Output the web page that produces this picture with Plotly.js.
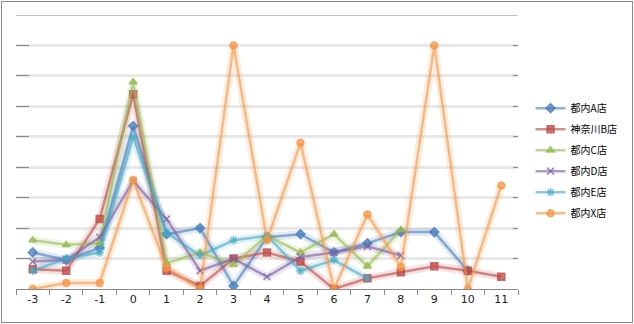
<!DOCTYPE html>
<html><head><meta charset="utf-8">
<script src="https://cdn.plot.ly/plotly-3.0.1.min.js"></script>
<style>
body{margin:0;padding:0;background:#fff;}
#chart{position:absolute;left:0;top:0;width:634px;height:324px;}
#frame{position:absolute;left:1px;top:1px;width:630px;height:320px;border:1px solid #8a8a8a;pointer-events:none;}
</style></head>
<body>
<div id="chart"></div>
<div id="frame"></div>
<script>
const categories = ["-3","-2","-1","0","1","2","3","4","5","6","7","8","9","10","11"];
const seriesNames = ["都内A店","神奈川B店","都内C店","都内D店","都内E店","都内X店"];
const storeA = [1.2, 0.95, 1.35, 5.35, 1.8, 2.0, 0.1, 1.7, 1.8, 1.2, 1.5, 1.87, 1.87, 0.6, null];
const storeB = [0.65, 0.6, 2.3, 6.4, 0.6, 0.1, 1.0, 1.2, 0.9, 0.0, 0.35, 0.55, 0.75, 0.6, 0.4];
const storeC = [1.6, 1.45, 1.5, 6.8, 0.85, 1.2, 0.8, 1.75, 1.2, 1.8, 0.75, 1.95, null, null, null];
const storeD = [0.9, 0.95, 1.7, 3.55, 2.3, 0.6, 1.0, 0.4, 1.05, 1.2, 1.4, 1.1, null, null, null];
const storeE = [0.6, 1.0, 1.2, 5.0, 1.85, 1.1, 1.6, 1.75, 0.6, 0.95, 0.35, null, null, null, null];
const storeX = [0.0, 0.2, 0.2, 3.58, 0.7, 0.0, 8.0, 1.6, 4.8, 0.0, 2.45, 0.72, 8.0, 0.0, 3.4];

const allValues = [storeA, storeB, storeC, storeD, storeE, storeX];
const colors = ["#4a7ebb","#be4b48","#98b954","#7d60a0","#46aac5","#f79646"];
const symbols = ["diamond","square","triangle-up","x-thin-open","asterisk-open","circle"];

function rgba(hex, a){
  const r=parseInt(hex.slice(1,3),16), g=parseInt(hex.slice(3,5),16), b=parseInt(hex.slice(5,7),16);
  return `rgba(${r},${g},${b},${a})`;
}

const traces = [];
allValues.forEach((vals, i) => {
  traces.push({
    x: categories, y: vals, type: 'scatter', mode: 'lines',
    line: {color: rgba(colors[i], 0.16), width: 8},
    showlegend: false, hoverinfo: 'skip', connectgaps: false
  });
});
allValues.forEach((vals, i) => {
  traces.push({
    x: categories, y: vals, type: 'scatter', mode: 'lines+markers',
    name: seriesNames[i], legendgroup: 'g' + i,
    line: {color: rgba(colors[i], 0.62), width: 2.5},
    marker: {symbol: symbols[i], size: 7, color: rgba(colors[i], 0.75),
             line: {color: rgba(colors[i], 0.75), width: 1.5}},
    connectgaps: false
  });
});
traces.push({x: categories, y: categories.map(() => null), yaxis: 'y2', showlegend: false, hoverinfo: 'skip', type: 'scatter', mode: 'lines'});

const layout = {
  width: 634, height: 324,
  margin: {l: 16, r: 116, t: 15, b: 35, autoexpand: false},
  paper_bgcolor: 'rgba(0,0,0,0)', plot_bgcolor: 'rgba(0,0,0,0)',
  font: {family: '"Noto Sans CJK JP", "DejaVu Sans", sans-serif', size: 11, color: '#222'},
  xaxis: {
    type: 'category', categoryorder: 'array', categoryarray: categories,
    range: [-0.5, 14.5], showgrid: false, zeroline: false,
    showline: true, linecolor: '#8a8a8a', linewidth: 1,
    ticks: 'outside', ticklen: 5, tickcolor: '#8a8a8a', tickson: 'boundaries',
    tickfont: {family: '"DejaVu Sans", sans-serif', size: 11, color: '#222'}
  },
  yaxis: {
    range: [0, 9], dtick: 1, showticklabels: false, zeroline: false,
    showgrid: true, gridcolor: '#e8e8e8', gridwidth: 3,
    ticks: 'inside', ticklen: 13, tickcolor: '#8a8a8a', showline: false
  },
  yaxis2: {
    overlaying: 'y', side: 'right', range: [0, 9], dtick: 1,
    showticklabels: false, showgrid: false, zeroline: false,
    ticks: 'inside', ticklen: 5, tickcolor: '#8a8a8a'
  },
  shapes: [{type: 'line', xref: 'paper', yref: 'y', x0: 0, x1: 1, y0: 9, y1: 9,
            line: {color: '#8a8a8a', width: 1}}],
  legend: {
    x: 1.025, xanchor: 'left', y: 0.713, yanchor: 'top',
    font: {family: '"Noto Sans CJK JP", sans-serif', size: 10, color: '#000'},
    itemwidth: 30, tracegroupgap: 2, bgcolor: 'rgba(0,0,0,0)'
  },
  showlegend: true
};

Plotly.newPlot('chart', traces, layout, {displayModeBar: false, staticPlot: true});
</script>
</body></html>
